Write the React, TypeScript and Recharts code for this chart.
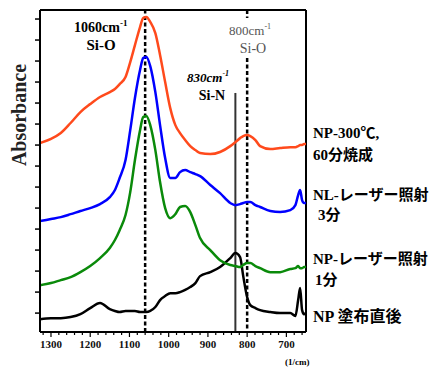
import React from 'react';
import { LineChart, Line, XAxis, YAxis, ReferenceLine } from 'recharts';

// Wavenumber (cm^-1), shared sampling grid
const wavenumbers = [1328, 1300, 1275, 1250, 1225, 1200, 1175, 1150, 1137, 1125, 1110, 1098, 1086, 1073, 1065, 1057, 1047, 1034, 1022, 1009, 996, 983, 971, 958, 945, 932, 920, 894, 869, 843, 830, 818, 810, 800, 792, 779, 767, 741, 716, 690, 677, 670, 665, 660, 655, 650];

// Offset absorbance (a.u.)
const np300Fired = [0.810, 0.829, 0.857, 0.905, 0.957, 0.995, 1.029, 1.052, 1.067, 1.090, 1.124, 1.195, 1.276, 1.362, 1.405, 1.410, 1.386, 1.333, 1.229, 1.100, 0.976, 0.895, 0.857, 0.824, 0.795, 0.776, 0.762, 0.757, 0.767, 0.795, 0.814, 0.833, 0.843, 0.848, 0.843, 0.824, 0.795, 0.781, 0.786, 0.790, 0.790, 0.795, 0.800, 0.800, 0.805, 0.805];
const nlLaser3min = [0.438, 0.448, 0.457, 0.471, 0.486, 0.500, 0.519, 0.552, 0.586, 0.643, 0.729, 0.871, 1.024, 1.157, 1.214, 1.219, 1.176, 1.052, 0.895, 0.738, 0.643, 0.643, 0.671, 0.681, 0.671, 0.662, 0.652, 0.610, 0.571, 0.524, 0.514, 0.519, 0.524, 0.529, 0.529, 0.514, 0.505, 0.486, 0.481, 0.490, 0.514, 0.562, 0.586, 0.538, 0.524, 0.524];
const npLaser1min = [0.133, 0.143, 0.157, 0.171, 0.195, 0.224, 0.262, 0.310, 0.348, 0.395, 0.467, 0.576, 0.729, 0.871, 0.933, 0.938, 0.895, 0.776, 0.624, 0.500, 0.452, 0.471, 0.505, 0.510, 0.481, 0.419, 0.357, 0.300, 0.252, 0.229, 0.224, 0.219, 0.229, 0.238, 0.238, 0.224, 0.214, 0.195, 0.195, 0.210, 0.214, 0.224, 0.214, 0.214, 0.219, 0.219];
const npAsCoated = [-0.029, -0.024, -0.024, -0.019, -0.005, 0.024, 0.048, 0.019, 0.010, 0.005, 0.010, 0.010, 0.010, 0.005, 0.005, 0.005, 0.010, 0.029, 0.062, 0.081, 0.095, 0.095, 0.100, 0.110, 0.124, 0.143, 0.176, 0.195, 0.219, 0.262, 0.286, 0.267, 0.176, 0.076, 0.038, 0.024, 0.014, 0.005, 0.000, 0.000, -0.014, 0.062, 0.119, 0.014, -0.005, 0.000];

const xTickLabels = [1300, 1200, 1100, 1000, 900, 800, 700];
const xMinorTicks = [660, 680, 700, 720, 740, 760, 780, 800, 820, 840, 860, 880, 900, 920, 940, 960, 980, 1000, 1020, 1040, 1060, 1080, 1100, 1120, 1140, 1160, 1180, 1200, 1220, 1240, 1260, 1280, 1300, 1320];
const yTicks = [0, 0.1, 0.2, 0.3, 0.4, 0.5, 0.6, 0.7, 0.8, 0.9, 1.0, 1.1, 1.2, 1.3, 1.4];

const X_DOMAIN: [number, number] = [650, 1328];
const Y_DOMAIN: [number, number] = [-0.09, 1.443];

const data = wavenumbers.map((wn, i) => ({
  wn,
  red: np300Fired[i],
  blue: nlLaser3min[i],
  green: npLaser1min[i],
  black: npAsCoated[i],
}));

const SERIF = "'Liberation Serif', 'Times New Roman', 'Noto Sans CJK JP', serif";
const MIX = "'Liberation Serif', 'Noto Sans CJK JP', serif";

const XTick = (props: any) => {
  const { x, y, payload } = props;
  const v = payload.value;
  const major = xTickLabels.includes(v);
  return (
    <g>
      <line x1={x} x2={x} y1={y} y2={y + (major ? 5 : 3)} stroke="#000" strokeWidth={1.2} />
      {major && (
        <text x={x} y={y + 16} textAnchor="middle" fontFamily={SERIF} fontWeight="bold" fontSize={11} fill="#111">
          {v}
        </text>
      )}
    </g>
  );
};

const EmptyTick = () => <g />;

export default function App() {
  return (
    <div style={{ position: 'absolute', left: 0, top: 0, width: 448, height: 367, background: '#fff' }}>
      <LineChart width={448} height={367} data={data} margin={{ top: 10, right: 142, bottom: 0, left: 0 }}>
        <XAxis
          dataKey="wn"
          type="number"
          domain={X_DOMAIN}
          reversed
          allowDataOverflow
          ticks={xMinorTicks}
          interval={0}
          tick={<XTick />}
          tickLine={false}
          tickSize={0}
          tickMargin={0}
          height={35}
          axisLine={{ stroke: '#000', strokeWidth: 2 }}
        />
        <YAxis
          type="number"
          domain={Y_DOMAIN}
          allowDataOverflow
          ticks={yTicks}
          interval={0}
          width={40}
          tick={<EmptyTick />}
          tickSize={5}
          tickLine={{ stroke: '#000', strokeWidth: 1.5 }}
          axisLine={{ stroke: '#000', strokeWidth: 2 }}
        />
        <ReferenceLine y={Y_DOMAIN[1]} stroke="#000" strokeWidth={2} />
        <ReferenceLine x={X_DOMAIN[0]} stroke="#000" strokeWidth={2} />
        <ReferenceLine x={1060} stroke="#000" strokeWidth={2.5} strokeDasharray="4 2.5" />
        <ReferenceLine segment={[{ x: 800, y: Y_DOMAIN[1] }, { x: 800, y: 1.405 }]} stroke="#000" strokeWidth={2.5} strokeDasharray="4 2.5" />
        <ReferenceLine segment={[{ x: 800, y: 1.214 }, { x: 800, y: Y_DOMAIN[0] }]} stroke="#000" strokeWidth={2.5} strokeDasharray="4 2.5" />
        <ReferenceLine segment={[{ x: 830, y: 1.048 }, { x: 830, y: Y_DOMAIN[0] }]} stroke="#333" strokeWidth={2} />
        <Line dataKey="black" type="monotone" stroke="#000" strokeWidth={2.5} dot={false} isAnimationActive={false} />
        <Line dataKey="green" type="monotone" stroke="#0a8a0a" strokeWidth={2.5} dot={false} isAnimationActive={false} />
        <Line dataKey="blue" type="monotone" stroke="#0000ff" strokeWidth={2.5} dot={false} isAnimationActive={false} />
        <Line dataKey="red" type="monotone" stroke="#ff4a1c" strokeWidth={2.5} dot={false} isAnimationActive={false} />
      </LineChart>
      <svg width={448} height={367} style={{ position: 'absolute', left: 0, top: 0, pointerEvents: 'none' }}>
        <text transform="rotate(-90)" x={-115} y={26} textAnchor="middle" fontFamily={SERIF} fontWeight="bold" fontSize={20} fill="#222">
          Absorbance
        </text>
        <text x={74} y={32} fontFamily={SERIF} fontWeight="bold" fontSize={14} fill="#000">
          1060cm<tspan dy={-6} fontSize={9}>-1</tspan>
        </text>
        <text x={101} y={50} textAnchor="middle" fontFamily={SERIF} fontWeight="bold" fontSize={15} fill="#000">Si-O</text>
        <text x={229} y={35} fontFamily={SERIF} fontSize={13} fill="#555">
          800cm<tspan dy={-6} fontSize={8}>-1</tspan>
        </text>
        <text x={253} y={53} textAnchor="middle" fontFamily={SERIF} fontSize={14} fill="#555">Si-O</text>
        <text x={187} y={82} fontFamily={SERIF} fontWeight="bold" fontStyle="italic" fontSize={13} fill="#000">
          830cm<tspan dy={-6} fontSize={8}>-1</tspan>
        </text>
        <text x={212} y={100} textAnchor="middle" fontFamily={SERIF} fontWeight="bold" fontSize={14} fill="#000">Si-N</text>
        <text x={313} y={138} fontFamily={MIX} fontWeight="bold" fontSize={15} fill="#000">NP-300℃,</text>
        <text x={313} y={160} fontFamily={MIX} fontWeight="bold" fontSize={15} fill="#000">60分焼成</text>
        <text x={313} y={200} fontFamily={MIX} fontWeight="bold" fontSize={15} fill="#000">NL-レーザー照射</text>
        <text x={318} y={220} fontFamily={MIX} fontWeight="bold" fontSize={15} fill="#000">3分</text>
        <text x={313} y={264} fontFamily={MIX} fontWeight="bold" fontSize={15} fill="#000">NP-レーザー照射</text>
        <text x={315} y={285} fontFamily={MIX} fontWeight="bold" fontSize={15} fill="#000">1分</text>
        <text x={313} y={322} fontFamily={MIX} fontWeight="bold" fontSize={16} fill="#000">NP 塗布直後</text>
        <text x={285} y={365} fontFamily={SERIF} fontWeight="bold" fontSize={9} fill="#000">(1/cm)</text>
      </svg>
    </div>
  );
}
